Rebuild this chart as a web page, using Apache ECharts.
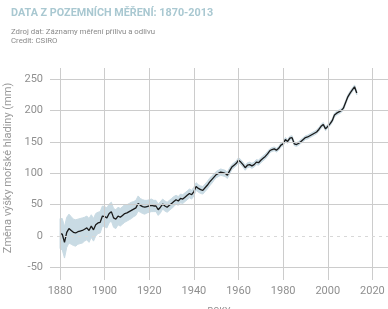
<!DOCTYPE html>
<html><head><meta charset="utf-8">
<script src="https://cdn.jsdelivr.net/npm/echarts@6/dist/echarts.min.js"></script>
<style>html,body{margin:0;padding:0;background:#fff}#c{width:388px;height:309px}</style>
</head><body><div id="c"></div>
<script>
const startYear = 1880;
const seaLevel = [
 4,3,-10,6,12,9,6,5,7,8,
 9,11,13,9,16,10,18,21,22,32,
 31,29,36,39,29,27,32,30,33,36,
 37,39,41,43,45,52,49,47,46,47,
 48,49,48,48,42,46,51,48,46,49,
 52,55,58,56,60,59,62,65,68,66,
 71,79,76,74,73,77,81,86,90,94,
 98,100,102,101,100,97,104,110,113,116,
 121,118,114,109,113,114,112,114,118,117,
 121,124,127,131,136,138,139,137,140,145,
 147,154,151,156,157,147,146,148,151,154,
 157,158,160,162,164,166,170,175,178,171,
 175,179,184,193,196,198,200,204,213,222,
 228,233,238,228
];
const uncertainty = [
 24,25,25,24,23,22,21,21,20,20,
 20,19,19,19,18,18,18,17,17,16,
 16,16,15,15,15,15,14,14,14,14,
 13,13,13,12,12,12,11,11,11,10,
 10,10,9,9,9,9,8,8,8,8,
 8,8,7,7,7,7,7,7,7,7,
 7,6,6,6,6,6,6,6,6,5,
 5,5,5,5,5,5,5,4,4,4,
 4,4,4,4,4,4,4,4,4,4,
 4,4,4,4,3,3,3,3,3,3,
 3,3,3,3,3,3,3,3,3,3,
 3,3,3,3,3,3,3,3,3,3,
 3,3,3,3,3,3,3,3,3,3,
 3,3,3,3
];
const xTicks = [1880,1900,1920,1940,1960,1980,2000,2020];
const yTicks = [-50,0,50,100,150,200,250];

const years = seaLevel.map((v,i)=>startYear+i);
const bandData = years.map((y,i)=>[y, seaLevel[i]-uncertainty[i], seaLevel[i]+uncertainty[i]]);
const lineData = years.map((y,i)=>[y, seaLevel[i]]);

const chart = echarts.init(document.getElementById('c'), null, {renderer:'canvas'});
const gridColor = '#cccccc';
chart.setOption({
  animation:false,
  backgroundColor:'#fff',
  title:[
    {text:'DATA Z POZEMNÍCH MĚŘENÍ: 1870-2013', left:11, top:8, padding:0,
     textStyle:{fontFamily:'Roboto', fontSize:10.8, fontWeight:'bold', color:'#a9c8d1'}},
    {text:'Zdroj dat: Záznamy měření přílivu a odlivu\nCredit: CSIRO', left:11, top:28, padding:0,
     textStyle:{fontFamily:'Roboto', fontSize:7.8, fontWeight:'normal', color:'#8a8a8a', lineHeight:9}}
  ],
  grid:{left:50, right:0, top:68, bottom:29, outerBoundsMode:'none', containLabel:false},
  xAxis:{
    type:'value', min:1875.5, max:2027,
    axisLine:{show:false}, axisTick:{show:false}, splitLine:{show:false},
    axisLabel:{customValues:xTicks, formatter:v=>String(v), color:'#8f8f8f', fontFamily:'Roboto', fontSize:11, margin:6},
    name:'ROKY', nameLocation:'middle', nameGap:27,
    nameTextStyle:{color:'#8f8f8f', fontFamily:'Roboto', fontSize:9}
  },
  yAxis:{
    type:'value', min:-70, max:268,
    axisLine:{show:false}, axisTick:{show:false}, splitLine:{show:false},
    axisLabel:{customValues:yTicks, color:'#8f8f8f', fontFamily:'Roboto', fontSize:11, margin:7},
    name:'Změna výšky mořské hladiny (mm)', nameLocation:'middle', nameGap:30,
    nameTextStyle:{color:'#9a9a9a', fontFamily:'Roboto', fontSize:11, padding:[0,0,0,12]}
  },
  series:[
    {type:'line', data:[], silent:true,
     markLine:{silent:true, symbol:'none', label:{show:false},
       data:[
         ...xTicks.map(v=>({xAxis:v, lineStyle:{color:gridColor, width:1, type:'solid'}})),
         ...yTicks.filter(v=>v!==0).map(v=>({yAxis:v, lineStyle:{color:gridColor, width:1, type:'solid'}})),
         {yAxis:0, lineStyle:{color:'#d8d8d8', width:1, type:[3,4]}}
       ]}},
    {type:'custom', data:bandData, silent:true, z:3,
     encode:{x:0, y:[1,2]},
     renderItem:function(params, api){
       if (params.dataIndex !== 0) return null;
       const upper = bandData.map(d=>api.coord([d[0], d[2]]));
       const lower = bandData.slice().reverse().map(d=>api.coord([d[0], d[1]]));
       return {type:'polygon', shape:{points:upper.concat(lower)},
               style:{fill:'#c9dbe4', stroke:'#c9dbe4', lineWidth:1}};
     }},
    {type:'line', data:lineData, symbol:'none', z:4,
     lineStyle:{color:'#1a1a1a', width:1.3}}
  ]
});
</script></body></html>
